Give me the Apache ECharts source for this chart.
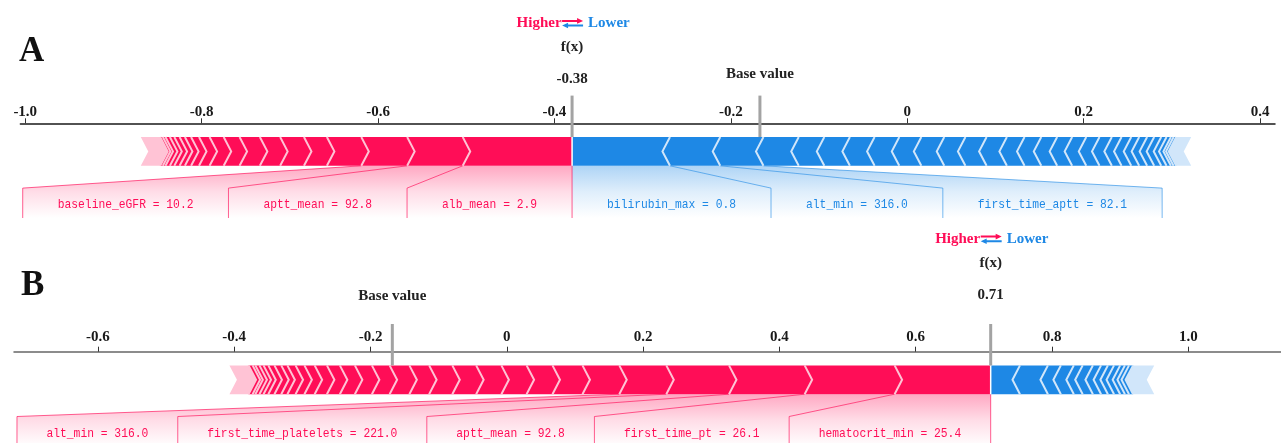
<!DOCTYPE html>
<html>
<head>
<meta charset="utf-8">
<script src="https://cdn.jsdelivr.net/npm/echarts@6/dist/echarts.min.js"></script>
<style>
  html, body { margin: 0; padding: 0; background: #fff; }
  #chart { width: 1281px; height: 443px; }
</style>
</head>
<body>
<div id="chart"></div>
<script>
// ---------- Panel A: SHAP contributions ----------
const fxA = -0.38;
const baseA = -0.167;
const redLabelsA = ['alb_mean = 2.9', 'aptt_mean = 92.8', 'baseline_eGFR = 10.2'];
const redValuesA = [0.124, 0.063, 0.052, 0.039, 0.026, 0.027, 0.023, 0.023, 0.018, 0.016,
                    0.012, 0.009, 0.007, 0.006, 0.006, 0.005, 0.005, 0.003, 0.003];
const redRestA = 0.022;
const blueLabelsA = ['bilirubin_max = 0.8', 'alt_min = 316.0', 'first_time_aptt = 82.1'];
const blueValuesA = [0.111, 0.057, 0.049, 0.040, 0.029, 0.029, 0.028, 0.028, 0.025, 0.026,
                     0.024, 0.024, 0.023, 0.020, 0.019, 0.018, 0.017, 0.016, 0.015, 0.014,
                     0.011, 0.011, 0.009, 0.009, 0.008, 0.008, 0.006, 0.005, 0.003, 0.003];
const blueRestA = 0.017;
const ticksA = [-1.0, -0.8, -0.6, -0.4, -0.2, 0, 0.2, 0.4];

// ---------- Panel B: SHAP contributions ----------
const fxB = 0.71;
const baseB = -0.168;
const redLabelsB = ['hematocrit_min = 25.4', 'first_time_pt = 26.1', 'aptt_mean = 92.8',
                    'first_time_platelets = 221.0', 'alt_min = 316.0'];
const redValuesB = [0.141, 0.132, 0.111, 0.092, 0.069, 0.054, 0.044, 0.038, 0.037, 0.037,
                    0.035, 0.034, 0.029, 0.029, 0.026, 0.025, 0.022, 0.019, 0.018, 0.015,
                    0.013, 0.012, 0.009, 0.010, 0.009, 0.007, 0.006, 0.006, 0.004, 0.006];
const redRestB = 0.028;
const blueLabelsB = [];
const blueValuesB = [0.043, 0.041, 0.019, 0.019, 0.013, 0.015, 0.012, 0.010, 0.009, 0.009,
                     0.007, 0.006, 0.006];
const blueRestB = 0.031;
const ticksB = [-0.6, -0.4, -0.2, 0, 0.2, 0.4, 0.6, 0.8, 1.0];

// ---------- styling ----------
const RED = '#ff0d57', RED_PALE = '#ffc3d5';
const BLUE = '#1e88e5', BLUE_PALE = '#d1e6fa';
const SERIF = '"Liberation Serif", "Times New Roman", serif';
const MONO_FONT = '13px "Liberation Mono", "DejaVu Sans Mono", monospace';
const MONO_SQUEEZE = 0.87;  // narrow the monospace glyphs horizontally
const TIP = 7.5;            // chevron depth in px
// vertical offsets (px) measured from each axis line
const OFF = { marker: -27.7, barTop: 13.7, barBot: 42.5, boxTop: 64.8, label: 81.5, boxBot: 94.7 };

const measureCtx = document.createElement('canvas').getContext('2d');
measureCtx.font = MONO_FONT;
const textWidth = t => measureCtx.measureText(t).width * MONO_SQUEEZE;

const panels = [
  {
    fx: fxA, base: baseA, ticks: ticksA,
    red: redValuesA, redRest: redRestA, redLabels: redLabelsA,
    blue: blueValuesA, blueRest: blueRestA, blueLabels: blueLabelsA,
    grid: { top: 123.3, left: 20.4, right: 6 }, range: [-1.0055, 0.417],
    axisColor: '#1a1a1a', axisWidth: 1.5, labelMargin: 4, labelPad: 70,
    text: { base: -49.3, fxVal: -44.3, fxName: -76.6, legend: -100 },
    letter: 'A', letterPos: [19, 54.2]
  },
  {
    fx: fxB, base: baseB, ticks: ticksB,
    red: redValuesB, redRest: redRestB, redLabels: redLabelsB,
    blue: blueValuesB, blueRest: blueRestB, blueLabels: blueLabelsB,
    grid: { top: 351.7, left: 14.3, right: 0 }, range: [-0.7227, 1.136],
    axisColor: '#8c8c8c', axisWidth: 2.2, labelMargin: 7, labelPad: 59,
    text: { base: -55.7, fxVal: -56.2, fxName: -88.7, legend: -112.7 },
    letter: 'B', letterPos: [21, 288.3]
  }
];

const fmtTick = v => (Math.abs(v) < 1e-9 ? '0' : v.toFixed(1));

function chevron(inner, outer, d, innerFlat, yT, yB, yM) {
  const pts = [[inner, yT]];
  if (!innerFlat) pts.push([inner - d * TIP, yM]);
  pts.push([inner, yB], [outer, yB], [outer - d * TIP, yM], [outer, yT]);
  return pts;
}

function drawPanel(p, api) {
  const X = v => api.coord([v, 0])[0];
  const Y = off => api.coord([0, off])[1];
  const kids = [];
  const yT = Y(OFF.barTop), yB = Y(OFF.barBot), yM = (yT + yB) / 2;
  const yBoxT = Y(OFF.boxTop), yBoxB = Y(OFF.boxBot), yLab = Y(OFF.label);
  const xf = X(p.fx);

  const sides = [
    { vals: p.red, rest: p.redRest, labels: p.redLabels, d: -1, color: RED, pale: RED_PALE,
      grad: 'rgba(255,13,87,', line: 'rgba(255,13,87,0.65)' },
    { vals: p.blue, rest: p.blueRest, labels: p.blueLabels, d: 1, color: BLUE, pale: BLUE_PALE,
      grad: 'rgba(30,136,229,', line: 'rgba(30,136,229,0.6)' }
  ];
  sides.forEach(s => {
    s.edges = [p.fx];
    s.vals.forEach(v => s.edges.push(s.edges[s.edges.length - 1] + s.d * v));
    s.end = s.edges[s.edges.length - 1] + s.d * s.rest;
  });

  // label areas under the bars (blue first so the red edge line sits on top)
  [sides[1], sides[0]].forEach(s => {
    let boxInner = xf;
    s.labels.forEach((lab, i) => {
      const fIn = X(s.edges[i]), fOut = X(s.edges[i + 1]);
      const boxOuter = boxInner + s.d * (textWidth(lab) + p.labelPad);
      kids.push({
        type: 'polygon',
        shape: { points: [[fIn, yB], [fOut, yB], [boxOuter, yBoxT], [boxOuter, yBoxB], [boxInner, yBoxB], [boxInner, yBoxT]] },
        style: { fill: new echarts.graphic.LinearGradient(0, 0, 0, 1, [
          { offset: 0, color: s.grad + '0.36)' },
          { offset: 0.5, color: s.grad + '0.14)' },
          { offset: 1, color: s.grad + '0)' }
        ]) }
      });
      kids.push({
        type: 'polyline',
        shape: { points: [[fOut, yB], [boxOuter, yBoxT], [boxOuter, yBoxB]] },
        style: { stroke: s.line, lineWidth: 1, fill: null }
      });
      kids.push({
        type: 'text', x: (boxInner + boxOuter) / 2, y: yLab, scaleX: MONO_SQUEEZE,
        style: { x: 0, y: 0, text: lab, font: MONO_FONT,
                 fill: s.color, align: 'center', verticalAlign: 'middle' }
      });
      boxInner = boxOuter;
    });
  });
  // f(x) edge line below the bar
  if (p.redLabels.length || p.blueLabels.length) {
    kids.push({ type: 'line', shape: { x1: xf, y1: yB, x2: xf, y2: yBoxB },
                style: { stroke: p.redLabels.length ? sides[0].line : sides[1].line, lineWidth: 1 } });
  }

  // bars
  sides.forEach(s => {
    const lastEdge = s.edges[s.edges.length - 1];
    kids.push({ type: 'polygon',
      shape: { points: chevron(X(lastEdge), X(s.end), s.d, false, yT, yB, yM) },
      style: { fill: s.pale } });
    for (let i = 0; i < s.vals.length; i++) {
      kids.push({ type: 'polygon',
        shape: { points: chevron(X(s.edges[i]), X(s.edges[i + 1]), s.d, i === 0, yT, yB, yM) },
        style: { fill: s.color } });
    }
    for (let i = 1; i < s.edges.length; i++) {
      const e = X(s.edges[i]);
      kids.push({ type: 'polyline',
        shape: { points: [[e, yT], [e - s.d * TIP, yM], [e, yB]] },
        style: { stroke: s.pale, lineWidth: 2, fill: null } });
    }
  });
  kids.push({ type: 'line', shape: { x1: xf, y1: yT, x2: xf, y2: yB }, style: { stroke: '#fff', lineWidth: 1.5 } });

  // base value and f(x) markers
  const yMk = Y(OFF.marker);
  [p.base, p.fx].forEach(v => {
    kids.push({ type: 'line', shape: { x1: X(v), y1: yMk, x2: X(v), y2: yT },
                style: { stroke: '#a3a3a3', lineWidth: 3 } });
  });
  const boldFont = 'bold 15px ' + SERIF;
  kids.push({ type: 'text', style: { x: X(p.base), y: Y(p.text.base), text: 'Base value', font: boldFont,
              fill: '#222', align: 'center', verticalAlign: 'middle' } });
  kids.push({ type: 'text', style: { x: xf, y: Y(p.text.fxVal), text: p.fx.toFixed(2), font: boldFont,
              fill: '#222', align: 'center', verticalAlign: 'middle' } });
  kids.push({ type: 'text', style: { x: xf, y: Y(p.text.fxName), text: 'f(x)', font: boldFont,
              fill: '#222', align: 'center', verticalAlign: 'middle' } });

  // higher / lower legend
  const yl = Y(p.text.legend);
  kids.push({ type: 'text', style: { x: xf - 10.5, y: yl, text: 'Higher', font: boldFont,
              fill: RED, align: 'right', verticalAlign: 'middle' } });
  kids.push({ type: 'text', style: { x: xf + 16, y: yl, text: 'Lower', font: boldFont,
              fill: BLUE, align: 'left', verticalAlign: 'middle' } });
  kids.push({ type: 'polygon', shape: { points: [
    [xf - 10, yl - 3.4], [xf + 5, yl - 3.4], [xf + 5, yl - 5.2], [xf + 11, yl - 2.4],
    [xf + 5, yl + 0.4], [xf + 5, yl - 1.4], [xf - 10, yl - 1.4]] }, style: { fill: RED } });
  kids.push({ type: 'polygon', shape: { points: [
    [xf + 11, yl + 1.2], [xf - 4, yl + 1.2], [xf - 4, yl - 0.6], [xf - 10, yl + 2.2],
    [xf - 4, yl + 5], [xf - 4, yl + 3.2], [xf + 11, yl + 3.2]] }, style: { fill: BLUE } });

  return { type: 'group', children: kids };
}

const chart = echarts.init(document.getElementById('chart'), null, { renderer: 'canvas' });
chart.setOption({
  animation: false,
  backgroundColor: '#fff',
  grid: panels.map(p => ({
    top: p.grid.top, left: p.grid.left, right: p.grid.right, height: 100,
    containLabel: false, outerBoundsMode: 'none'
  })),
  xAxis: panels.map((p, i) => ({
    type: 'value', gridIndex: i, position: 'top', min: p.range[0], max: p.range[1],
    axisLine: { show: true, onZero: false, lineStyle: { color: p.axisColor, width: p.axisWidth } },
    axisTick: { show: true, length: 5, customValues: p.ticks, lineStyle: { color: '#333', width: 1 } },
    axisLabel: { customValues: p.ticks, formatter: fmtTick, margin: p.labelMargin,
                 fontFamily: SERIF, fontWeight: 'bold', fontSize: 15, color: '#1a1a1a' },
    splitLine: { show: false }
  })),
  yAxis: panels.map((p, i) => ({
    type: 'value', gridIndex: i, min: 0, max: 100, inverse: true, show: false
  })),
  graphic: panels.map(p => ({
    type: 'text', left: p.letterPos[0], top: p.letterPos[1] - 20,
    style: { text: p.letter, font: 'bold 35px ' + SERIF, fill: '#111' }
  })),
  series: panels.map((p, i) => ({
    type: 'custom', xAxisIndex: i, yAxisIndex: i, silent: true, clip: false,
    data: [[p.fx, 0]],
    renderItem: (params, api) => drawPanel(p, api)
  }))
});
</script>
</body>
</html>
